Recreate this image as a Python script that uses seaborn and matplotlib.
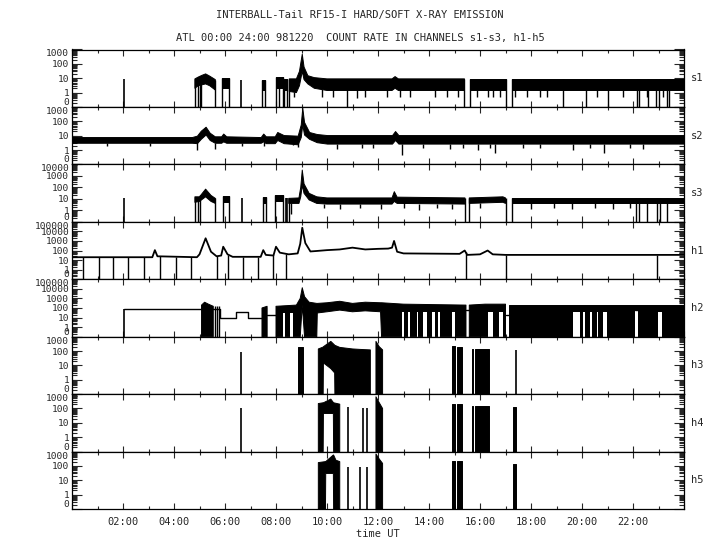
import numpy as np
import matplotlib
matplotlib.use("Agg")
import matplotlib.pyplot as plt
import seaborn as sns
from matplotlib.ticker import FixedLocator, LogLocator, NullFormatter, MultipleLocator

nan = np.nan

# ---------------- data (hours UT, count rates) ----------------
PANELS = ["s1", "s2", "s3", "h1", "h2", "h3", "h4", "h5"]
YMAX = [1000, 1000, 10000, 100000, 100000, 1000, 1000, 1000]
XTICK_HOURS = [2, 4, 6, 8, 10, 12, 14, 16, 18, 20, 22]
XTICK_LABELS = ["02:00", "04:00", "06:00", "08:00", "10:00", "12:00",
                "14:00", "16:00", "18:00", "20:00", "22:00"]

# s1 : band envelope (nan = no data)
S1_T = [4.82, 4.95, 5.10, 5.24, 5.40, 5.62, 5.75, 5.90, 6.17, 7.0, 7.46, 7.56, 7.8,
        7.99, 8.26, 8.28, 8.31, 8.45, 8.48, 8.52, 8.80, 8.92, 9.03, 9.10, 9.25, 9.50,
        10.0, 12.55, 12.67, 12.80, 15.39, 15.5, 15.60, 17.00, 17.1, 17.25, 24.0]
S1_HI = [9, 12, 16, 20, 14, 8, nan, 10, 10, nan, 8, 8, nan, 12, 12, nan, 9, 9, nan,
         9, 9, 30, 470, 60, 15, 11, 9, 9, 13, 9, 9, nan, 9, 9, nan, 9, 9]
S1_LO = [2, 3, 3.5, 4, 3, 1.5, nan, 2, 2, nan, 1.5, 1.5, nan, 2, 2, nan, 1.5, 1.5, nan,
         1.2, 1.0, 3, 30, 8, 4, 2, 1.4, 1.4, 2, 1.4, 1.4, nan, 1.4, 1.4, nan, 1.4, 1.4]
S1_DROP = [4.82, 4.93, 5.0, 5.05, 5.62, 5.90, 6.17, 7.46, 7.56, 7.99, 8.10, 8.26,
           8.31, 8.45, 8.52, 10.80, 15.39, 15.60, 17.00, 17.25, 19.24, 20.14, 21.0,
           22.14, 22.24, 22.60, 22.90, 23.0, 23.32, 23.41]
S1_SPIKE_T = [2.04, 6.63]
S1_SPIKE_V = [9, 7]
S1_DIP_T = [8.7, 9.79, 10.22, 11.16, 11.49, 12.34, 12.86, 13.25, 14.24, 14.69, 15.15,
            15.87, 16.33, 16.52, 16.78, 17.37, 17.83, 18.35, 18.62, 20.58, 21.62,
            22.54, 23.19]
S1_DIP_V = [0.5, 0.5, 0.5, 0.4, 0.5, 0.5, 0.5, 0.5, 0.5, 0.5, 0.5, 0.5, 0.5, 0.5,
            0.5, 0.5, 0.5, 0.5, 0.5, 0.5, 0.5, 0.5, 0.5]

# s2 : continuous band
S2_T = [0, 4.70, 4.90, 5.05, 5.24, 5.40, 5.60, 5.85, 5.93, 6.05, 7.40, 7.50, 7.60,
        7.95, 8.05, 8.30, 8.85, 8.97, 9.03, 9.10, 9.30, 9.60, 10.0, 12.55, 12.67,
        12.80, 24.0]
S2_HI = [8, 8, 10, 22, 42, 16, 9, 9, 14, 9, 8, 14, 9, 9, 18, 11, 10, 60, 900, 90,
         18, 13, 11, 11, 21, 11, 11]
S2_LO = [3.2, 3.2, 3, 6, 12, 5, 3.2, 3.2, 4, 3.2, 3.2, 4, 3, 3, 5, 3, 2.5, 8, 60, 12,
         6, 3.5, 2.8, 2.8, 5, 2.8, 2.8]
S2_DIP_T = [1.36, 3.06, 4.92, 5.61, 6.68, 7.53, 8.68, 8.88, 10.38, 11.36, 11.82,
            12.95, 13.78, 14.82, 15.35, 15.93, 16.39, 16.59, 17.7, 18.35, 19.66,
            20.31, 20.86, 21.88, 22.41]
S2_DIP_V = [2.0, 2.0, 1.0, 1.2, 1.9, 2.0, 2.2, 1.5, 1.2, 1.4, 1.4, 0.45, 1.4, 1.2,
            1.4, 1.0, 1.4, 0.6, 1.4, 1.4, 1.0, 1.4, 0.6, 1.4, 1.2]

# s3
S3_T = [4.82, 5.00, 5.24, 5.45, 5.62, 5.75, 5.92, 6.17, 7.0, 7.50, 7.60, 7.8, 7.97,
        8.26, 8.45, 8.50, 8.90, 8.97, 9.03, 9.10, 9.30, 9.60, 10.0, 12.55, 12.64,
        12.75, 15.41, 15.5, 15.58, 16.90, 17.0, 17.1, 17.24, 24.0]
S3_HI = [15, 15, 70, 20, 11, nan, 17, 17, nan, 14, 14, nan, 21, 21, nan, 11, 12, 100,
         3200, 200, 30, 15, 12, 12, 42, 14, 12, nan, 12, 15, 12, nan, 13, 13]
S3_LO = [5, 6, 15, 6, 4, nan, 5, 5, nan, 4, 4, nan, 6.6, 6.6, nan, 4, 4, 15, 150, 30,
         8, 4, 3.5, 3.5, 6, 4, 3.5, nan, 4, 5, 4, nan, 4.5, 4.5]
S3_DROP = [4.82, 4.93, 5.02, 5.62, 5.92, 6.17, 7.50, 7.60, 7.97, 8.26, 8.50, 15.41,
           15.58, 17.0, 17.24, 22.10, 22.23, 22.55, 22.96, 23.05, 23.32]
S3_SPIKE_T = [2.04, 6.65, 8.38, 8.43]
S3_SPIKE_V = [11, 11, 12, 12]
S3_DIP_T = [8.6, 9.9, 10.5, 11.3, 12.1, 13.0, 13.6, 14.3, 14.9, 16.0, 18.0, 18.9,
            19.6, 20.5, 21.2, 21.9]
S3_DIP_V = [0.5, 1.5, 1.2, 1.5, 1.2, 1.5, 1.0, 1.5, 1.2, 1.5, 1.2, 1.5, 1.2, 1.5,
            1.2, 1.5]

# h1 : single trace
H1_T = [0, 3.15, 3.25, 3.35, 4.90, 5.00, 5.24, 5.45, 5.67, 5.85, 5.93, 6.10, 6.30,
        7.40, 7.50, 7.60, 7.90, 8.00, 8.15, 8.50, 8.85, 8.95, 9.03, 9.15, 9.35, 9.60,
        10.0, 10.5, 11.0, 11.5, 12.0, 12.4, 12.55, 12.63, 12.75, 13.0, 15.2, 15.4,
        15.5, 16.0, 16.3, 16.5, 17.0, 24.0]
H1_V = [20, 20, 110, 25, 20, 40, 1900, 75, 25, 30, 250, 40, 22, 22, 110, 35, 30, 250,
        60, 40, 50, 500, 24000, 600, 80, 90, 110, 130, 200, 130, 150, 160, 200, 1000,
        75, 50, 45, 100, 35, 40, 100, 40, 35, 35]
H1_DROP = [0.44, 1.06, 1.62, 2.21, 2.84, 3.45, 4.07, 4.67, 5.67, 6.13, 6.72, 7.31,
           7.87, 8.38, 15.44, 17.0, 22.93]

# h2 : flat (repeated) values, band, and gaps where the rate never drops to zero
H2_STEP_T = [2.04, 5.08, nan, 5.54, 5.80, 6.45, 6.90, 7.45, nan, 7.65, 8.00, nan,
             15.45, 15.58, nan, 17.00, 17.12, nan, 22.08, 22.21]
H2_STEP_V = [73, 73, nan, 73, 10, 40, 10, 10, nan, 20, 20, nan, 60, 60, nan, 18, 18,
             nan, 60, 60]
H2_T = [5.08, 5.20, 5.35, 5.54, 5.6, 7.45, 7.65, 7.7, 8.0, 8.8, 8.95, 9.03, 9.12,
        9.30, 9.60, 9.62, 10.0, 10.5, 11.0, 11.5, 12.10, 12.14, 13.0, 15.45, 15.5,
        15.58, 16.2, 17.0, 17.06, 17.12, 20.0, 24.0]
H2_HI = [200, 400, 250, 150, nan, 100, 150, nan, 150, 200, 1000, 13000, 1500, 400, 300,
         300, 350, 500, 300, 400, 350, 350, 250, 200, nan, 200, 250, 250, nan, 200, 200,
         200]
H2_LO = [0.1, 0.1, 0.1, 0.1, nan, 0.1, 0.1, nan, 0.1, 0.1, 0.1, 200, 0.1, 0.1, 0.1,
         30, 40, 60, 40, 50, 40, 0.1, 0.1, 0.1, nan, 0.1, 0.1, 0.1, nan, 0.1, 0.1, 0.1]
H2_GAP_T0 = [8.29, 8.55, 12.93, 13.19, 13.52, 13.78, 14.10, 14.37, 14.89, 16.30,
             16.75, 19.66, 20.05, 20.31, 20.58, 20.84, 22.08, 22.98]
H2_GAP_T1 = [8.35, 8.68, 13.00, 13.25, 13.58, 13.91, 14.24, 14.43, 15.02, 16.50,
             16.90, 19.92, 20.12, 20.38, 20.64, 20.97, 22.21, 23.12]
H2_GAP_LO = [30, 30, 40, 40, 40, 40, 40, 40, 40, 40, 40, 40, 40, 40, 40, 40, 60, 40]
H2_DROP = [5.62, 5.67, 5.75, 7.50, 7.60]

# h3 / h4 / h5 : bursts (lo 0.1 = filled to zero)
H3_T = [8.85, 9.04, 9.3, 9.66, 9.85, 9.86, 10.15, 10.30, 10.31, 10.5, 11.0, 11.3,
        11.7, 11.8, 11.92, 12.05, 12.18, 12.5, 14.9, 15.0, 15.01, 15.08, 15.09, 15.3,
        15.5, 15.67, 15.72, 15.73, 15.8, 15.81, 16.35]
H3_HI = [200, 200, nan, 140, 190, 200, 470, 260, 250, 180, 140, 130, 120, nan, 470,
         200, 120, nan, 220, 220, nan, nan, 200, 200, nan, 140, 140, nan, nan, 140, 140]
H3_LO = [0.1, 0.1, nan, 0.1, 0.1, 15, 6, 3, 0.1, 0.1, 0.1, 0.1, 0.1, nan, 0.1, 0.1,
         0.1, nan, 0.1, 0.1, nan, nan, 0.1, 0.1, nan, 0.1, 0.1, nan, nan, 0.1, 0.1]
H3_SPIKE_T = [6.63, 17.4]
H3_SPIKE_V = [90, 110]

H4_T = [9.66, 9.85, 9.86, 10.15, 10.25, 10.26, 10.5, 10.6, 11.92, 12.05, 12.18, 12.5,
        14.9, 15.0, 15.01, 15.08, 15.09, 15.3, 15.5, 15.67, 15.72, 15.73, 15.8, 15.81,
        16.35, 16.5, 17.28, 17.4]
H4_HI = [220, 250, 250, 450, 260, 250, 200, nan, 650, 250, 100, nan, 200, 200, nan,
         nan, 200, 200, nan, 150, 150, nan, nan, 150, 150, nan, 120, 120]
H4_LO = [0.1, 0.1, 45, 45, 45, 0.1, 0.1, nan, 0.1, 0.1, 0.1, nan, 0.1, 0.1, nan, nan,
         0.1, 0.1, nan, 0.1, 0.1, nan, nan, 0.1, 0.1, nan, 0.1, 0.1]
H4_SPIKE_T = [6.63, 10.83, 11.4, 11.55]
H4_SPIKE_V = [105, 120, 100, 100]

H5_T = [9.66, 9.94, 9.95, 10.25, 10.26, 10.35, 10.5, 10.6, 11.92, 12.05, 12.18, 12.5,
        14.9, 15.0, 15.01, 15.08, 15.09, 15.3, 15.5, 17.28, 17.42]
H5_HI = [170, 200, 200, 580, 570, 250, 200, nan, 680, 300, 150, nan, 230, 230, nan,
         nan, 230, 230, nan, 130, 130]
H5_LO = [0.1, 0.1, 30, 30, 0.1, 0.1, 0.1, nan, 0.1, 0.1, 0.1, nan, 0.1, 0.1, nan, nan,
         0.1, 0.1, nan, 0.1, 0.1]
H5_SPIKE_T = [10.83, 11.3, 11.55]
H5_SPIKE_V = [80, 80, 80]

# ---------------- drawing ----------------
sns.set_style("ticks")
plt.rcParams["font.family"] = ["DejaVu Sans Mono"]
plt.rcParams["font.size"] = 7.5

fig = plt.figure(figsize=(7.2, 5.5), dpi=100)
LEFT, RIGHT, TOP, BOTTOM = 72 / 720, 684 / 720, 1 - 49.5 / 550, 1 - 509 / 550
gs = fig.add_gridspec(8, 1, left=LEFT, right=RIGHT, top=TOP, bottom=BOTTOM, hspace=0)
axes = [fig.add_subplot(gs[i]) for i in range(8)]
YMIN = 0.1


def band(ax, t, hi, lo):
    t = np.asarray(t, float)
    hi = np.asarray(hi, float)
    lo = np.asarray(lo, float)
    ax.fill_between(t, lo, hi, facecolor="black", edgecolor="black", linewidth=0.7)
    return t, hi, lo


def drops(ax, t, hi, dt):
    ok = np.isfinite(hi)
    tops = np.interp(dt, t[ok], hi[ok])
    ax.vlines(dt, YMIN, tops, color="black", linewidth=1)


def dips(ax, t, lo, dt, dv):
    ok = np.isfinite(lo)
    tops = np.interp(dt, t[ok], lo[ok])
    ax.vlines(dt, dv, tops, color="black", linewidth=1)


def spikes(ax, st, sv):
    ax.vlines(st, YMIN, sv, color="black", linewidth=1.2)


# s1
ax = axes[0]
t, hi, lo = band(ax, S1_T, S1_HI, S1_LO)
drops(ax, t, hi, S1_DROP)
dips(ax, t, lo, S1_DIP_T, S1_DIP_V)
spikes(ax, S1_SPIKE_T, S1_SPIKE_V)
# s2
ax = axes[1]
t, hi, lo = band(ax, S2_T, S2_HI, S2_LO)
dips(ax, t, lo, S2_DIP_T, S2_DIP_V)
# s3
ax = axes[2]
t, hi, lo = band(ax, S3_T, S3_HI, S3_LO)
drops(ax, t, hi, S3_DROP)
dips(ax, t, lo, S3_DIP_T, S3_DIP_V)
spikes(ax, S3_SPIKE_T, S3_SPIKE_V)
# h1
ax = axes[3]
sns.lineplot(x=H1_T, y=H1_V, ax=ax, color="black", linewidth=1.3,
             estimator=None, sort=False)
ax.vlines(H1_DROP, YMIN, np.interp(H1_DROP, H1_T, H1_V), color="black", linewidth=1)
# h2
ax = axes[4]
ax.step(H2_STEP_T, H2_STEP_V, where="post", color="black", linewidth=1)
ax.vlines([H2_STEP_T[0]], YMIN, H2_STEP_V[0], color="black", linewidth=1.2)
t, hi, lo = band(ax, H2_T, H2_HI, H2_LO)
drops(ax, t, hi, H2_DROP)
for g0, g1, gl in zip(H2_GAP_T0, H2_GAP_T1, H2_GAP_LO):
    ax.fill_between([g0, g1], [YMIN * 1.02] * 2, [gl, gl], facecolor="white",
                    edgecolor="none", linewidth=0)
# h3-h5
for ax, T, HI, LO, ST, SV in [(axes[5], H3_T, H3_HI, H3_LO, H3_SPIKE_T, H3_SPIKE_V),
                              (axes[6], H4_T, H4_HI, H4_LO, H4_SPIKE_T, H4_SPIKE_V),
                              (axes[7], H5_T, H5_HI, H5_LO, H5_SPIKE_T, H5_SPIKE_V)]:
    band(ax, T, HI, LO)
    spikes(ax, ST, SV)

for i, ax in enumerate(axes):
    ymax = YMAX[i]
    ax.set_yscale("log")
    ax.set_xlim(0, 24)
    ax.set_ylim(YMIN, ymax)
    ax.set_xlabel("")
    ax.set_ylabel("")
    decs = [10.0 ** k for k in range(-1, int(round(np.log10(ymax))) + 1)]
    ax.yaxis.set_major_locator(FixedLocator(decs))
    ax.set_yticklabels(["0" if d < 1 else str(int(round(d))) for d in decs])
    ax.yaxis.set_minor_locator(LogLocator(base=10, subs=np.arange(2, 10), numticks=20))
    ax.yaxis.set_minor_formatter(NullFormatter())
    ax.xaxis.set_major_locator(FixedLocator(list(range(0, 25, 2))))
    ax.xaxis.set_minor_locator(MultipleLocator(1))
    ax.tick_params(axis="y", which="major", direction="in", length=7.2, width=0.8,
                   left=True, right=True, labelsize=6.8, pad=2)
    ax.tick_params(axis="y", which="minor", direction="in", length=3.6, width=0.8,
                   left=True, right=True)
    ax.tick_params(axis="x", which="major", direction="in", length=4.3, width=0.8,
                   top=True, bottom=True, labelbottom=(i == 7), labelsize=7.5, pad=6)
    ax.tick_params(axis="x", which="minor", direction="in", length=2.2, width=0.8,
                   top=True, bottom=True)
    for sp in ax.spines.values():
        sp.set_linewidth(0.9)
        sp.set_color("black")
    majors = ax.yaxis.get_major_ticks()
    majors[0].label1.set_va("bottom")
    majors[-1].label1.set_va("top")
    ax.text(1.012, 0.5, PANELS[i], transform=ax.transAxes, ha="left", va="center",
            fontsize=7.5)

axes[7].set_xticks([0] + XTICK_HOURS + [24])
axes[7].set_xticklabels([""] + XTICK_LABELS + [""])
axes[7].set_xlabel("time UT", fontsize=7.5, labelpad=1)

fig.text(0.5, 1 - 15 / 550, "INTERBALL-Tail RF15-I HARD/SOFT X-RAY EMISSION",
         ha="center", va="center", fontsize=7.5)
fig.text(0.5, 1 - 38 / 550,
         "ATL 00:00 24:00 981220  COUNT RATE IN CHANNELS s1-s3, h1-h5",
         ha="center", va="center", fontsize=7.5)

fig.savefig("out.png", dpi=100, facecolor="white")
